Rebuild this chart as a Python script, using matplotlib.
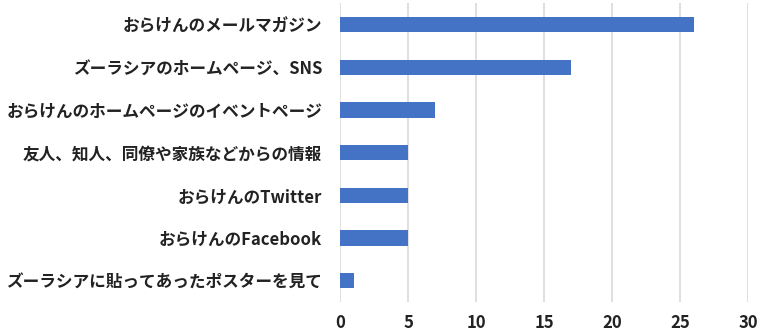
import matplotlib
matplotlib.use("Agg")
import matplotlib.pyplot as plt

plt.rcParams['font.family'] = ['Noto Sans CJK JP', 'DejaVu Sans']

# data, top to bottom as shown
categories = [
    "おらけんのメールマガジン",
    "ズーラシアのホームページ、SNS",
    "おらけんのホームページのイベントページ",
    "友人、知人、同僚や家族などからの情報",
    "おらけんのTwitter",
    "おらけんのFacebook",
    "ズーラシアに貼ってあったポスターを見て",
]
counts = [26, 17, 7, 5, 5, 5, 1]
xticks = [0, 5, 10, 15, 20, 25, 30]

fig = plt.figure(figsize=(7.61, 3.34), dpi=100)
ax = fig.add_axes([0.447, 0.096, 0.536, 0.894])

ypos = list(range(len(categories)))
ax.barh(ypos, counts, height=0.36, color='#4472C4', zorder=3)

ax.set_ylim(len(categories) - 0.5, -0.5)
ax.set_xlim(0, 30)
ax.set_yticks(ypos)
ax.set_yticklabels(categories, fontsize=12, fontweight='bold', color='#222222')
ax.set_xticks(xticks)
ax.set_xticklabels([str(v) for v in xticks], fontsize=12, fontweight='bold', color='#222222')
ax.tick_params(axis='y', length=0, pad=13)
ax.tick_params(axis='x', length=0, pad=9)

ax.grid(axis='x', color='#d9d9d9', linewidth=1.2, zorder=0)
for s in ax.spines.values():
    s.set_visible(False)

fig.savefig("out.png", dpi=100)
